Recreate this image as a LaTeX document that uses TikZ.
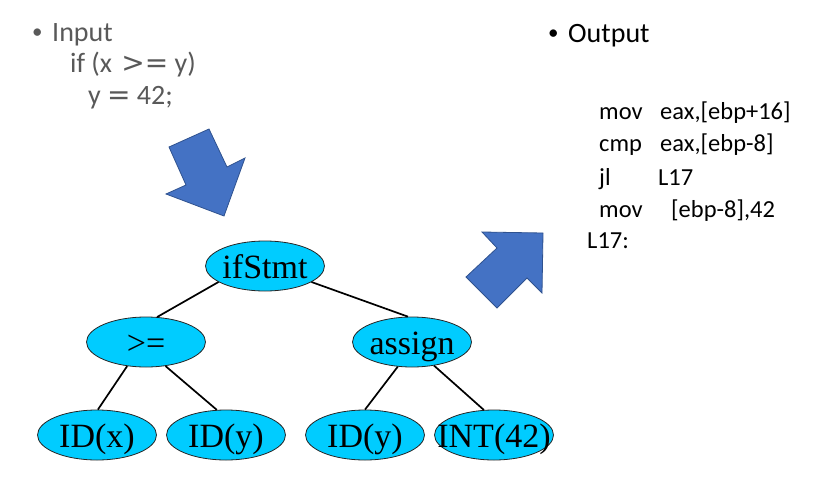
\documentclass[tikz,border=0pt]{standalone}
\usepackage{fontspec}
\setmainfont{Carlito}
\newfontfamily\serifnode{Liberation Serif}
\newfontfamily\dvs{DejaVu Sans}
\usetikzlibrary{shapes.geometric}
\definecolor{astfill}{RGB}{0,204,255}
\definecolor{arrowblue}{RGB}{68,114,196}
\definecolor{arrowedge}{RGB}{47,82,143}
\definecolor{inputgrey}{RGB}{89,89,89}
\begin{document}
\begin{tikzpicture}[x=1pt,y=-1pt,
  ast/.style={ellipse, draw=black!85, line width=0.8pt, fill=astfill,
    minimum width=119pt, minimum height=50pt, inner xsep=-22pt, inner ysep=-6pt,
    text height=28pt, text depth=3pt,
    font=\serifnode\fontsize{34}{34}\selectfont},
  treeedge/.style={line width=1.7pt, black},
  blockarrow/.style={fill=arrowblue, draw=arrowedge, line width=0.8pt, line join=miter},
  txt/.style={anchor=base west, inner sep=0pt},
  headtxt/.style={txt, font=\fontsize{28}{28}\selectfont},
  bullettxt/.style={txt, font=\fontsize{21}{21}\selectfont},
  codetxt/.style={txt, text=inputgrey, font=\fontsize{28}{28}\selectfont},
  asmtxt/.style={txt, font=\fontsize{24.5}{24.5}\selectfont}]
\useasboundingbox (0,0) rectangle (818,476);

% headings
\node[bullettxt, text=inputgrey] (inbul) at (32,39) {•};
\node[headtxt, text=inputgrey] (inlbl) at (52,42) {Input};
\node[codetxt] (code1) at (70,73) {if (x\hspace{3pt} {\dvs >=} y)};
\node[codetxt] (code2) at (88,105) {y {\dvs =} 42;};

\node[bullettxt] (outbul) at (548,40) {•};
\node[headtxt] (outlbl) at (568,43) {Output};

\node[asmtxt] (a1) at (599,120) {\makebox[61pt][l]{mov}eax,[ebp+16]};
\node[asmtxt] (a2) at (599,151) {\makebox[61pt][l]{cmp}eax,[ebp-8]};
\node[asmtxt] (a3) at (599,185) {\makebox[59pt][l]{jl}L17};
\node[asmtxt] (a4) at (599,217) {\makebox[72pt][l]{mov}[ebp-8],42};
\node[asmtxt] (a5) at (587,248) {L17:};

% block arrows
\filldraw[blockarrow] (169,147) -- (209,129) -- (227,167) -- (245,158)
  -- (224,216) -- (166,194) -- (186,185) -- cycle;
\filldraw[blockarrow] (482,232) -- (543,233) -- (542,293) -- (527,278)
  -- (497,308) -- (466,277) -- (497,248) -- cycle;

% tree
\node[ast] (ifs) at (265,266) {ifStmt};
\node[ast] (ge) at (146,342) {>=};
\node[ast] (asg) at (412,342) {assign};
\node[ast] (idx) at (97,435) {ID(x)};
\node[ast] (idy) at (226,435) {ID(y)};
\node[ast] (idyb) at (365,435) {ID(y)};
\node[ast] (int) at (494,435) {INT(42)};

\draw[treeedge] (ifs.199) -- (ge.66);
\draw[treeedge] (ifs.341) -- (asg.99);
\draw[treeedge] (ge.232) -- (idx.88);
\draw[treeedge] (ge.309) -- (idy.110);
\draw[treeedge] (asg.240) -- (idyb.90);
\draw[treeedge] (asg.313) -- (int.112);
\end{tikzpicture}
\end{document}
